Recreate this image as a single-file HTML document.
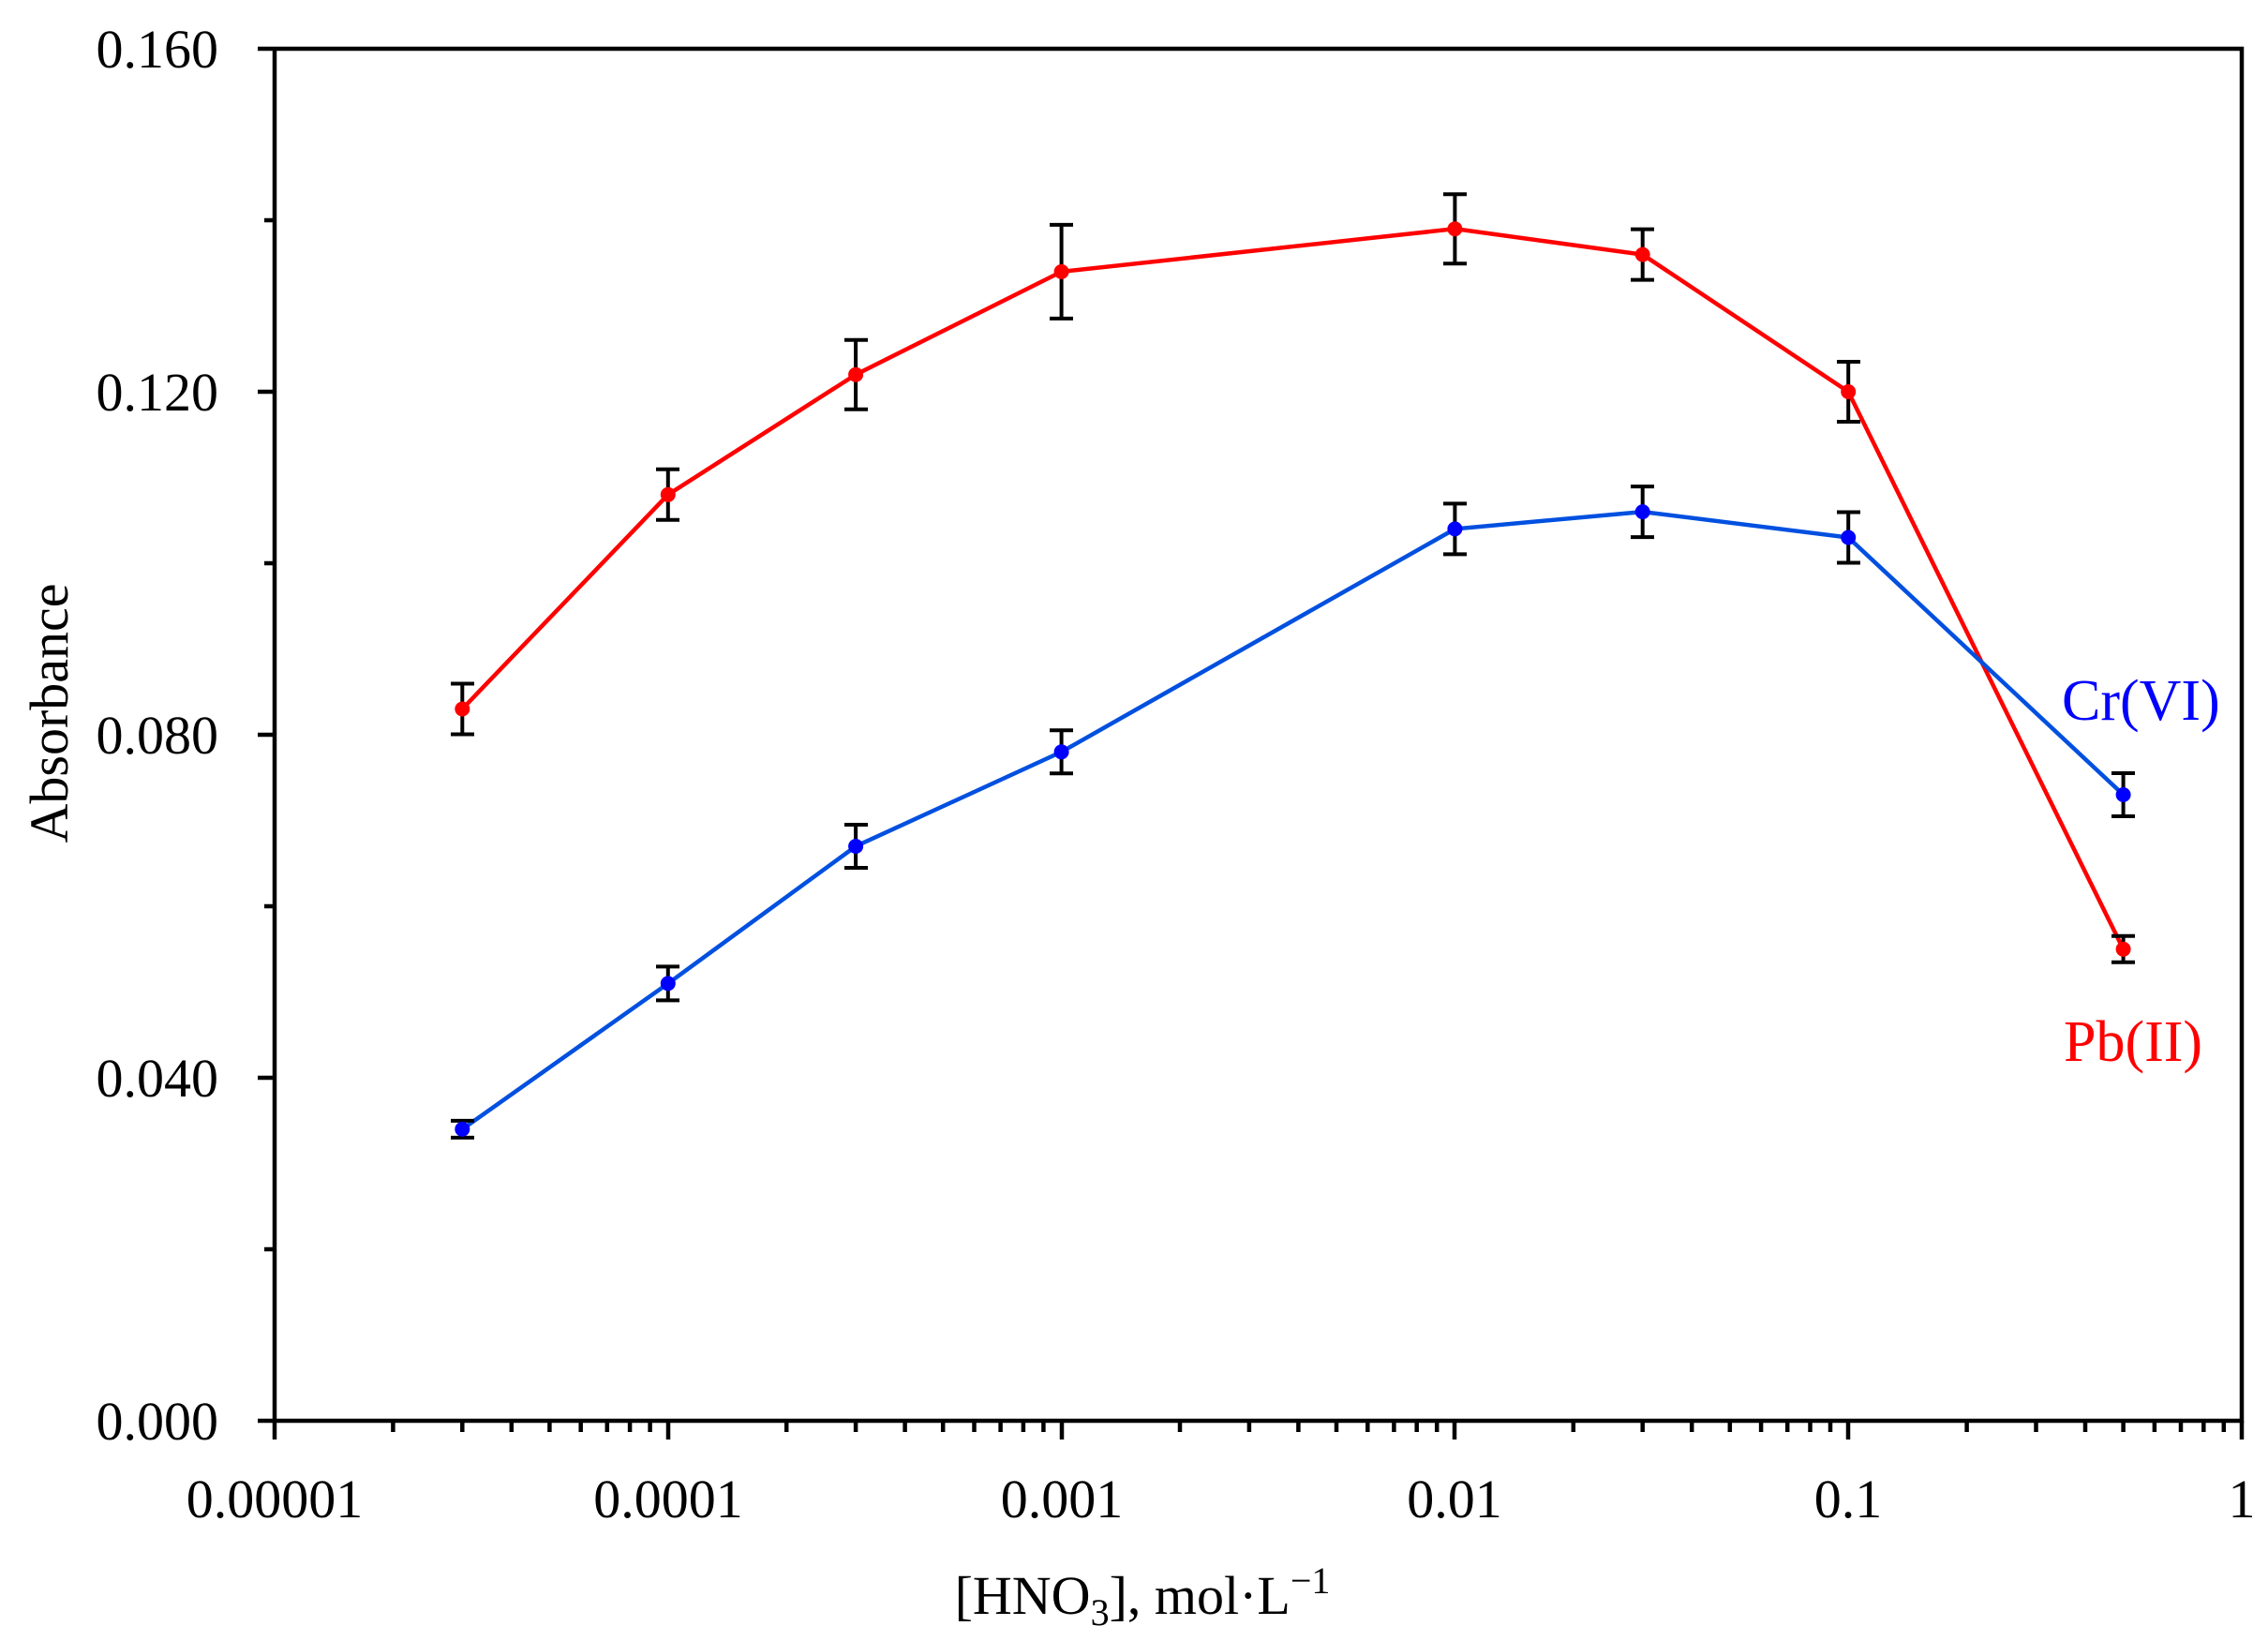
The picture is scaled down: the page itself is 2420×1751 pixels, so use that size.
<!DOCTYPE html>
<html><head><meta charset="utf-8"><style>
html,body{margin:0;padding:0;background:#fff}
svg{display:block}
text{font-family:"Liberation Serif",serif}
</style></head><body>
<svg width="2420" height="1751" viewBox="0 0 2420 1751" xmlns="http://www.w3.org/2000/svg">
<g stroke="#000" stroke-width="4.5" fill="none">
<polyline points="293,52 2392,52 2392,1516 293,1516 293,52"/>
<path d="M275,52H293M275,418H293M275,784H293M275,1150H293M275,1516H293M282,235H293M282,601H293M282,967H293M282,1333H293"/>
<path d="M293,1516V1536M713,1516V1536M1133,1516V1536M1552,1516V1536M1972,1516V1536M2392,1516V1536"/>
<path d="
M419.4,1516v12M493.3,1516v12M545.8,1516v12M586.4,1516v12M619.7,1516v12M647.8,1516v12M672.1,1516v12M693.6,1516v12
M839.2,1516v12M913.1,1516v12M965.6,1516v12M1006.2,1516v12M1039.5,1516v12M1067.6,1516v12M1091.9,1516v12M1113.4,1516v12
M1259,1516v12M1332.9,1516v12M1385.4,1516v12M1426,1516v12M1459.3,1516v12M1487.4,1516v12M1511.7,1516v12M1533.2,1516v12
M1678.8,1516v12M1752.7,1516v12M1805.2,1516v12M1845.8,1516v12M1879.1,1516v12M1907.2,1516v12M1931.5,1516v12M1953,1516v12
M2098.6,1516v12M2172.5,1516v12M2225,1516v12M2265.6,1516v12M2298.9,1516v12M2327,1516v12M2351.3,1516v12M2372.8,1516v12"/>
</g>
<g font-size="58" fill="#000" text-anchor="end">
<text x="233" y="72">0.160</text>
<text x="233" y="438">0.120</text>
<text x="233" y="804">0.080</text>
<text x="233" y="1170">0.040</text>
<text x="233" y="1536">0.000</text>
</g>
<g font-size="58" fill="#000" text-anchor="middle">
<text x="293" y="1619">0.00001</text>
<text x="713" y="1619">0.0001</text>
<text x="1133" y="1619">0.001</text>
<text x="1552" y="1619">0.01</text>
<text x="1972" y="1619">0.1</text>
<text x="2392" y="1619">1</text>
<text x="1219" y="1722">[HNO<tspan font-size="40" dy="12">3</tspan><tspan dy="-12">], mol·L</tspan><tspan font-size="40" dy="-22">−1</tspan></text>
<text transform="translate(72,761) rotate(-90)">Absorbance</text>
</g>
<polyline fill="none" stroke="#ff0000" stroke-width="4.5" points="493.3,756.5 712.8,527.8 913.1,399.7 1132.6,289.9 1552.4,244.2 1752.7,271.6 1972.2,418 2265.6,1012.8"/>
<polyline fill="none" stroke="#0050e0" stroke-width="4.5" points="493.3,1204.9 712.8,1049.4 913.1,903 1132.6,802.3 1552.4,564.4 1752.7,546.1 1972.2,573.5 2265.6,848"/>
<g stroke="#000" stroke-width="4" fill="none">
<path d="M493.3,729.5V783.5M481,729.5h25M481,783.5h25
M712.8,500.8V554.8M700,500.8h25M700,554.8h25
M913.1,362.7V436.7M901,362.7h25M901,436.7h25
M1132.6,239.9V339.9M1120,239.9h25M1120,339.9h25
M1552.4,207.2V281.2M1540,207.2h25M1540,281.2h25
M1752.7,244.6V298.6M1740,244.6h25M1740,298.6h25
M1972.2,386V450M1960,386h25M1960,450h25
M2265.6,998.8V1026.8M2253,998.8h25M2253,1026.8h25
M493.3,1195.9V1213.9M481,1195.9h25M481,1213.9h25
M712.8,1031.4V1067.4M700,1031.4h25M700,1067.4h25
M913.1,880V926M901,880h25M901,926h25
M1132.6,779.3V825.3M1120,779.3h25M1120,825.3h25
M1552.4,537.4V591.4M1540,537.4h25M1540,591.4h25
M1752.7,519.1V573.1M1740,519.1h25M1740,573.1h25
M1972.2,546.5V600.5M1960,546.5h25M1960,600.5h25
M2265.6,825V871M2253,825h25M2253,871h25"/>
</g>
<g fill="#ff0000">
<circle cx="493.3" cy="756.5" r="8"/><circle cx="712.8" cy="527.8" r="8"/><circle cx="913.1" cy="399.7" r="8"/><circle cx="1132.6" cy="289.9" r="8"/><circle cx="1552.4" cy="244.2" r="8"/><circle cx="1752.7" cy="271.6" r="8"/><circle cx="1972.2" cy="418" r="8"/><circle cx="2265.6" cy="1012.8" r="8"/>
</g>
<g fill="#0000ff">
<circle cx="493.3" cy="1204.9" r="8"/><circle cx="712.8" cy="1049.4" r="8"/><circle cx="913.1" cy="903" r="8"/><circle cx="1132.6" cy="802.3" r="8"/><circle cx="1552.4" cy="564.4" r="8"/><circle cx="1752.7" cy="546.1" r="8"/><circle cx="1972.2" cy="573.5" r="8"/><circle cx="2265.6" cy="848" r="8"/>
</g>
<text x="2200" y="768" font-size="62" fill="#0000ff">Cr(VI)</text>
<text x="2202" y="1132" font-size="62" fill="#ff0000">Pb(II)</text>
</svg>
</body></html>
